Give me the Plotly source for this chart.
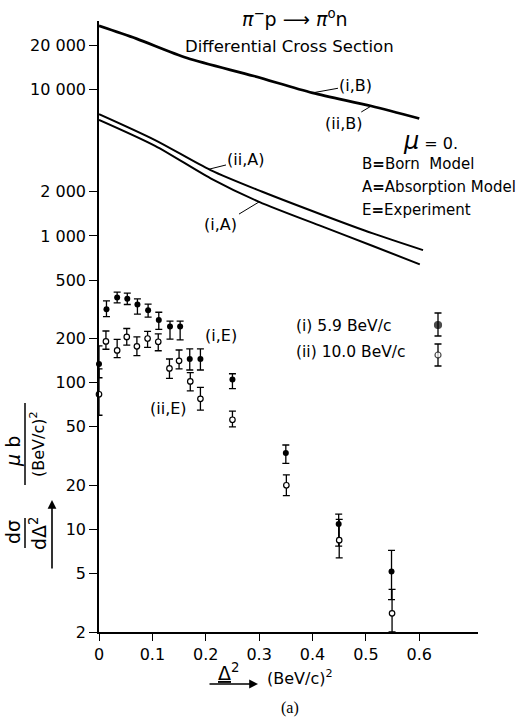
import numpy as np
import plotly.graph_objects as go

# ---------------- data ----------------
# Born model curve ((i,B) and (ii,B) coincide)
born_x = [0.0, 0.07, 0.165, 0.29, 0.40, 0.51, 0.60]
born_y = [27000, 22100, 16300, 12300, 9440, 7680, 6310]

# Absorption model, (ii) 10.0 BeV/c
abs_ii_x = [0.0, 0.105, 0.209, 0.306, 0.419, 0.513, 0.607]
abs_ii_y = [6760, 4500, 2810, 2000, 1390, 1040, 800]

# Absorption model, (i) 5.9 BeV/c
abs_i_x = [0.0, 0.105, 0.209, 0.30, 0.419, 0.513, 0.601]
abs_i_y = [6180, 4110, 2470, 1706, 1156, 854, 640]

# Experiment (i) 5.9 BeV/c  (filled)
exp_i_x = [0.0, 0.014, 0.034, 0.053, 0.072, 0.092, 0.112, 0.133, 0.152, 0.170, 0.190, 0.250, 0.350, 0.449, 0.548]
exp_i_y = [134, 317, 381, 373, 341, 312, 267, 241, 241, 145, 145, 105, 33.2, 10.9, 5.17]
exp_i_hi = [178, 361, 414, 408, 372, 343, 302, 263, 263, 170, 170, 115, 37.6, 12.7, 7.2]
exp_i_lo = [108, 282, 350, 341, 293, 280, 231, 198, 196, 122, 122, 91, 28.2, 7.7, 3.32]

# Experiment (ii) 10.0 BeV/c  (open)
exp_ii_x = [0.0, 0.013, 0.034, 0.052, 0.071, 0.091, 0.111, 0.132, 0.150, 0.171, 0.190, 0.250, 0.351, 0.450, 0.549]
exp_ii_y = [83.4, 191, 166, 205, 177, 200, 190, 125, 141, 102, 77.6, 55.9, 20, 8.45, 2.68]
exp_ii_hi = [124, 225, 197, 234, 205, 224, 215, 145, 167, 117, 93, 64, 23.5, 11.7, 3.9]
exp_ii_lo = [60, 169, 148, 180, 153, 174, 165, 107, 124, 88, 65, 50, 17, 6.4, 2.0]

x_ticks = [0, 0.1, 0.2, 0.3, 0.4, 0.5, 0.6]
x_tick_text = ["0", "0.1", "0.2", "0.3", "0.4", "0.5", "0.6"]
y_ticks = [2, 5, 10, 20, 50, 100, 200, 500, 1000, 2000, 10000, 20000]
y_tick_text = ["2", "5", "10", "20", "50", "100", "200", "500", "1 000", "2 000", "10 000", "20 000"]

# ---------------- layout geometry ----------------
W, H = 523, 719
L, R, T, B = 99, 45, 21, 87
PW, PH = W - L - R, H - T - B
X_RANGE = [0, 0.71]
Y_RANGE = [np.log10(2), np.log10(2) + PH / 146.75]
FONT = "DejaVu Sans"


def paper(px, py):
    return (px - L) / PW, (H - B - py) / PH


def data_to_px(x, y):
    fx = (x - X_RANGE[0]) / (X_RANGE[1] - X_RANGE[0])
    fy = (np.log10(y) - Y_RANGE[0]) / (Y_RANGE[1] - Y_RANGE[0])
    return L + fx * PW, H - B - fy * PH


def on_curve(xs, ys, x):
    return float(np.exp(np.interp(x, xs, np.log(ys))))


fig = go.Figure()

line_style = dict(color="black", shape="spline", smoothing=0.8)
fig.add_trace(go.Scatter(x=born_x, y=born_y, mode="lines",
                         line=dict(width=2.8, **line_style), name="(i,B), (ii,B)"))
fig.add_trace(go.Scatter(x=abs_ii_x, y=abs_ii_y, mode="lines",
                         line=dict(width=2.0, **line_style), name="(ii,A)"))
fig.add_trace(go.Scatter(x=abs_i_x, y=abs_i_y, mode="lines",
                         line=dict(width=2.0, **line_style), name="(i,A)"))


def err(vals, hi, lo):
    return ([h - v for h, v in zip(hi, vals)], [v - l for v, l in zip(vals, lo)])


up, dn = err(exp_i_y, exp_i_hi, exp_i_lo)
fig.add_trace(go.Scatter(
    x=exp_i_x, y=exp_i_y, mode="markers", name="(i) 5.9 BeV/c", cliponaxis=False,
    marker=dict(symbol="circle", size=6, color="black"),
    error_y=dict(type="data", symmetric=False, array=up, arrayminus=dn,
                 color="black", thickness=1.3, width=3.5)))
up, dn = err(exp_ii_y, exp_ii_hi, exp_ii_lo)
fig.add_trace(go.Scatter(
    x=exp_ii_x, y=exp_ii_y, mode="markers", name="(ii) 10.0 BeV/c", cliponaxis=False,
    marker=dict(symbol="circle", size=5.5, color="white", line=dict(color="black", width=1.2)),
    error_y=dict(type="data", symmetric=False, array=up, arrayminus=dn,
                 color="black", thickness=1.3, width=3.5)))

# key glyphs (legend) drawn on an invisible overlay axis in paper units
kx, ky1 = paper(438, 325)
_, ky2 = paper(438, 355)
fig.add_trace(go.Scatter(
    x=[kx, kx], y=[ky1, ky2], xaxis="x2", yaxis="y2", mode="markers", showlegend=False,
    cliponaxis=False,
    marker=dict(symbol="circle", size=[7, 6], color=["black", "white"],
                line=dict(color="black", width=1.2)),
    error_y=dict(type="data", symmetric=False, array=[12 / PH, 11 / PH],
                 arrayminus=[11 / PH, 11 / PH], color="black", thickness=1.3, width=3.5)))

axis_common = dict(showline=True, linecolor="black", linewidth=1.5, ticks="outside",
                   tickcolor="black", tickwidth=1.3, showgrid=False, zeroline=False,
                   tickfont=dict(family=FONT, size=16, color="black"))
fig.update_layout(
    width=W, height=H, margin=dict(l=L, r=R, t=T, b=B, pad=0),
    paper_bgcolor="white", plot_bgcolor="white", showlegend=False,
    font=dict(family=FONT, color="black"),
    xaxis=dict(range=X_RANGE, tickvals=x_ticks, ticktext=x_tick_text, ticklen=7, **axis_common),
    yaxis=dict(type="log", range=Y_RANGE, tickvals=y_ticks, ticktext=y_tick_text, ticklen=8,
               **axis_common),
    xaxis2=dict(overlaying="x", range=[0, 1], visible=False),
    yaxis2=dict(overlaying="y", range=[0, 1], visible=False),
)

ann = []


def text_at(px_, py_, text, size=16, anchor="center", angle=0, family=FONT):
    x, y = paper(px_, py_)
    ann.append(dict(x=x, y=y, xref="paper", yref="paper", text=text, showarrow=False,
                    xanchor=anchor, yanchor="middle", textangle=angle,
                    font=dict(family=family, size=size, color="black")))


def label_curve(xs, ys, tip_x, text_px, text_py, text, size=16):
    ty = on_curve(xs, ys, tip_x)
    tpx, tpy = data_to_px(tip_x, ty)
    ann.append(dict(x=tip_x, y=np.log10(ty), xref="x", yref="y", text=text,
                    showarrow=True, arrowhead=0, arrowwidth=1, arrowcolor="black",
                    ax=text_px - tpx, ay=text_py - tpy, standoff=0,
                    font=dict(family=FONT, size=size, color="black")))


# titles
text_at(295, 18, "<i>π</i><sup>−</sup>p ⟶ <i>π</i><sup>o</sup>n", size=19)
text_at(289, 47, "Differential Cross Section", size=16.5)

# curve labels
label_curve(born_x, born_y, 0.40, 356, 85, "(i,B)")
label_curve(born_x, born_y, 0.51, 343, 123, "(ii,B)")
label_curve(abs_ii_x, abs_ii_y, 0.206, 246, 160, "(ii,A)")
label_curve(abs_i_x, abs_i_y, 0.30, 221, 225, "(i,A)")
text_at(221, 335, "(i,E)")
text_at(168, 408, "(ii,E)")

# key text
text_at(401, 141, "<span style='font-size:24px'><i>μ</i></span> = 0.", size=16, anchor="left")
text_at(360, 164, "B<b>=</b>Born  Model", size=15, anchor="left")
text_at(360, 187, "A<b>=</b>Absorption Model", size=15, anchor="left")
text_at(360, 210, "E<b>=</b>Experiment", size=15, anchor="left")
text_at(294, 326, "(i) 5.9 BeV/c", size=15.5, anchor="left")
text_at(294, 352, "(ii) 10.0 BeV/c", size=15.5, anchor="left")

# y-axis title (two stacked fractions, rotated) + arrow
text_at(13, 452, "<i>μ</i> b", size=19, angle=-90)
text_at(37, 444, "(BeV/c)<sup>2</sup>", size=16, angle=-90)
text_at(13, 532, "dσ", size=19, angle=-90)
text_at(38, 533, "dΔ<sup>2</sup>", size=19, angle=-90)
hx, hy = paper(52, 500)
ann.append(dict(x=hx, y=hy, xref="paper", yref="paper", text="", showarrow=True,
                arrowhead=2, arrowsize=1.1, arrowwidth=1.6, arrowcolor="black",
                ax=0, ay=70, standoff=0))

# x-axis title + arrow
text_at(228, 672, "<u>Δ</u><sup>2</sup>", size=19)
hx, hy = paper(258, 684)
ann.append(dict(x=hx, y=hy, xref="paper", yref="paper", text="", showarrow=True,
                arrowhead=2, arrowsize=1.1, arrowwidth=1.6, arrowcolor="black",
                ax=-50, ay=0, standoff=0))
text_at(300, 677, "(BeV/c)<sup>2</sup>", size=16)
text_at(290, 708, "(a)", size=16, family="Liberation Serif")

fig.update_layout(annotations=ann)

# fraction bars
shapes = []
for x_, y0_, y1_ in [(25, 403, 485), (25, 518, 548)]:
    x0, y0 = paper(x_, y0_)
    _, y1 = paper(x_, y1_)
    shapes.append(dict(type="line", xref="paper", yref="paper", x0=x0, x1=x0, y0=y0, y1=y1,
                       line=dict(color="black", width=1.5)))
fig.update_layout(shapes=shapes)

fig.write_html("out.html", config={"displayModeBar": False},
               post_script="document.body.style.margin='0px';")
